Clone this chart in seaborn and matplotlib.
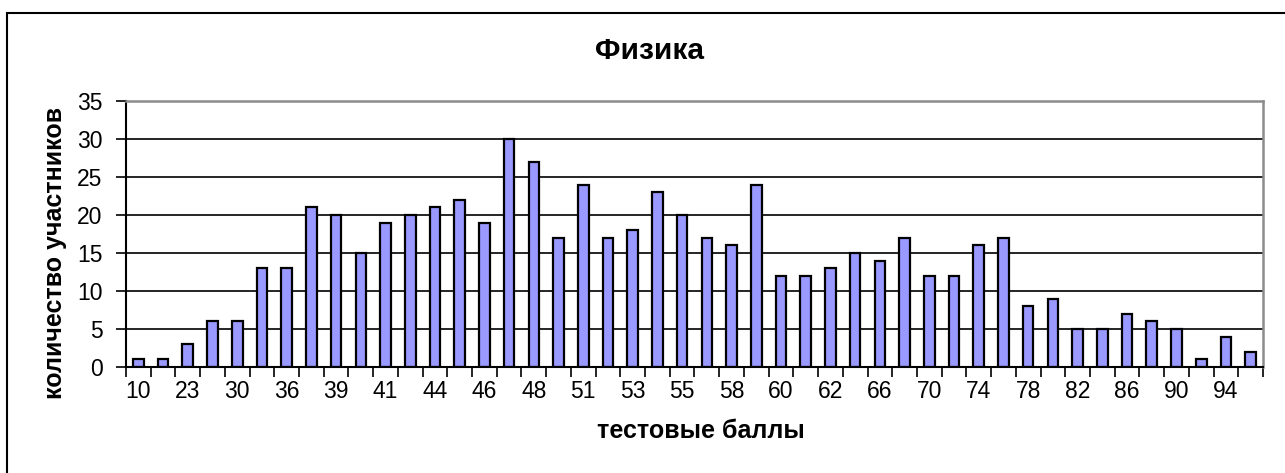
import matplotlib
matplotlib.use("Agg")
import matplotlib.pyplot as plt
import seaborn as sns
import pandas as pd
from matplotlib.patches import Rectangle

scores = ["10", "17", "23", "27", "30", "33", "36", "37", "39", "40", "41", "43",
          "44", "45", "46", "47", "48", "49", "51", "52", "53", "54", "55", "56",
          "58", "59", "60", "61", "62", "64", "66", "68", "70", "72", "74", "76",
          "78", "80", "82", "84", "86", "88", "90", "92", "94", "96"]
counts = [1, 1, 3, 6, 6, 13, 13, 21, 20, 15, 19, 20,
          21, 22, 19, 30, 27, 17, 24, 17, 18, 23, 20, 17,
          16, 24, 12, 12, 13, 15, 14, 17, 12, 12, 16, 17,
          8, 9, 5, 5, 7, 6, 5, 1, 4, 2]
yticks = [0, 5, 10, 15, 20, 25, 30, 35]
title = "Физика"
xlabel = "тестовые баллы"
ylabel = "количество участников"

sns.set_theme(style="white")
plt.rcParams['font.family'] = ['Liberation Sans', 'DejaVu Sans']
plt.rcParams['text.color'] = 'black'
plt.rcParams['axes.labelcolor'] = 'black'

df = pd.DataFrame({"score": scores, "count": counts})

W, H = 1285, 473
fig = plt.figure(figsize=(W / 100, H / 100), dpi=100)
left, right, top, bottom = 126, 1263, 101, 367
ax = fig.add_axes([left / W, 1 - bottom / H, (right - left) / W, (bottom - top) / H])

sns.barplot(data=df, x="score", y="count", order=scores, color="#9999FF",
            saturation=1, edgecolor="black", linewidth=1.6, width=0.43, ax=ax)

n = len(scores)
ax.set_xlim(-0.5, n - 0.5)
ax.set_ylim(0, 35)
ax.set_yticks(yticks)
ax.set_yticklabels([str(v) for v in yticks], fontsize=16.5, color="black")
for v in yticks[1:-1]:
    ax.axhline(v, color="black", lw=1.2, zorder=0)

# category boundaries as major ticks, labels at centers (minor ticks)
ax.set_xticks([i - 0.5 for i in range(n + 1)])
ax.set_xticklabels([])
ax.set_xticks(list(range(n)), minor=True)
ax.set_xticklabels([s if i % 2 == 0 else "" for i, s in enumerate(scores)], minor=True,
                   fontsize=16.5, color="black")
ax.tick_params(axis="x", which="major", direction="out", length=7, width=1.2, color="black", bottom=True)
ax.tick_params(axis="x", which="minor", length=0, pad=9)
ax.tick_params(axis="y", direction="out", length=7, width=1.2, color="black", left=True, pad=10)

for side in ["left", "bottom"]:
    ax.spines[side].set_color("black")
    ax.spines[side].set_linewidth(1.5)
for side in ["top", "right"]:
    ax.spines[side].set_visible(True)
    ax.spines[side].set_color("#8c8c8c")
    ax.spines[side].set_linewidth(1.8)

ax.set_xlabel(xlabel, fontsize=18, fontweight="bold", color="black", va="center")
ax.xaxis.set_label_coords((701 - left) / (right - left), (bottom - 431) / (bottom - top))
ax.set_ylabel(ylabel, fontsize=18, fontweight="bold", color="black", va="center")
ax.yaxis.set_label_coords((55 - left) / (right - left), (bottom - 253) / (bottom - top))
fig.text(650 / W, 1 - 51 / H, title, fontsize=21.5, fontweight="bold", color="black",
         ha="center", va="center")

# outer chart border
fig.patches.append(Rectangle((7 / W, -0.05), 1.1, 1 - 13 / H + 0.05, transform=fig.transFigure,
                             fill=False, edgecolor="black", lw=1.5))

fig.savefig("out.png", dpi=100, facecolor="white")
